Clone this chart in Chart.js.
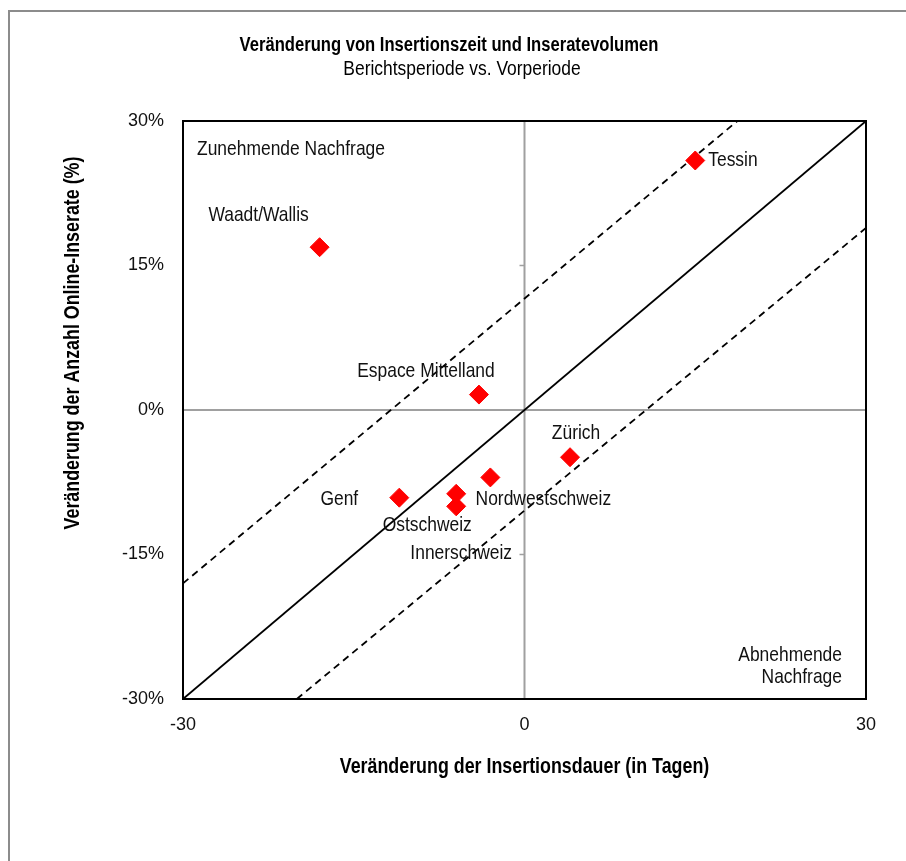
<!DOCTYPE html>
<html><head><meta charset="utf-8">
<script src="https://cdn.jsdelivr.net/npm/chart.js@4.4.1/dist/chart.umd.min.js"></script>
<style>html,body{margin:0;padding:0;background:#fff;width:906px;height:861px;overflow:hidden}
#wrap{position:absolute;left:0;top:0;width:906px;height:861px}</style>
</head><body>
<div id="wrap"><canvas id="c" width="906" height="861"></canvas></div>
<script>
const regions = ['Tessin','Waadt/Wallis','Espace Mittelland','Zürich','Nordwestschweiz','Genf','Ostschweiz','Innerschweiz'];
const dayChange = [15, -18, -4, 4, -3, -11, -6, -6];
const adChange = [25.9, 16.9, 1.6, -4.9, -7.0, -9.1, -8.7, -10.0];
const xTickValues = [-30, 0, 30];
const yTickValues = [-30, -15, 0, 15, 30];
const diagonalX = [-30, 30];
const diagonalY = [-30, 30];
const upperBandX = [-30, 18.7];
const upperBandY = [-18, 30];
const lowerBandX = [-20, 30];
const lowerBandY = [-30, 18.9];
const titleText = 'Veränderung von Insertionszeit und Inseratevolumen';
const subtitleText = 'Berichtsperiode vs. Vorperiode';
const xTitleText = 'Veränderung der Insertionsdauer (in Tagen)';
const yTitleText = 'Veränderung der Anzahl Online-Inserate (%)';
const cornerTopLeft = ['Zunehmende Nachfrage'];
const cornerBottomRight = ['Abnehmende', 'Nachfrage'];

// layout/style (not data)
const FONT = '"Liberation Sans", Arial, sans-serif';
const NARROW = 0.83; // horizontal compression to imitate a narrow face
const labelOffsets = [[13,0,'left'],[-61,-32,'center'],[-53,-23,'center'],[6,-24,'center'],[53,22,'center'],[-60,2,'center'],[-29,31,'center'],[5,47,'center']];

function narrowText(ctx, text, x, y, align, font, rot){
  ctx.save();
  ctx.translate(x, y);
  if (rot) ctx.rotate(rot);
  ctx.scale(NARROW, 1);
  ctx.font = font; ctx.textAlign = align; ctx.textBaseline = 'middle';
  ctx.fillText(text, 0, 0);
  ctx.restore();
}

const pts = dayChange.map((x,i)=>({x, y: adChange[i]}));
const line = (xs, ys) => xs.map((x,i)=>({x, y: ys[i]}));

const decor = {
  id:'decor',
  beforeDatasetsDraw(chart){
    const {ctx, chartArea:a, scales:{x, y}} = chart;
    ctx.save();
    ctx.strokeStyle='#8c8c8c'; ctx.lineWidth=2;
    ctx.beginPath(); ctx.moveTo(9, 900); ctx.lineTo(9, 11); ctx.lineTo(1000, 11); ctx.stroke();
    ctx.strokeStyle='#a0a0a0'; ctx.lineWidth=2;
    const x0=x.getPixelForValue(0), y0=y.getPixelForValue(0);
    ctx.beginPath(); ctx.moveTo(x0,a.top); ctx.lineTo(x0,a.bottom); ctx.moveTo(a.left,y0); ctx.lineTo(a.right,y0); ctx.stroke();
    ctx.lineWidth=1.5;
    ctx.beginPath();
    yTickValues.forEach(v=>{const p=y.getPixelForValue(v); ctx.moveTo(x0-5,p); ctx.lineTo(x0,p);});
    ctx.stroke();
    ctx.restore();
  },
  afterDatasetsDraw(chart){
    const {ctx, chartArea:a, scales:{x, y}} = chart;
    ctx.save();
    ctx.strokeStyle='#000'; ctx.lineWidth=2;
    ctx.strokeRect(a.left, a.top, a.right-a.left, a.bottom-a.top);
    ctx.fillStyle='#111';
    const f21 = '21px '+FONT;
    regions.forEach((r,i)=>{
      const px=x.getPixelForValue(dayChange[i]), py=y.getPixelForValue(adChange[i]);
      const [dx,dy,al]=labelOffsets[i];
      narrowText(ctx, r, px+dx, py+dy, al, f21);
    });
    cornerTopLeft.forEach((t,i)=>narrowText(ctx, t, a.left+14, a.top+28+i*22, 'left', f21));
    cornerBottomRight.forEach((t,i)=>narrowText(ctx, t, a.right-24, a.bottom-44+i*22, 'right', f21));
    ctx.fillStyle='#000';
    narrowText(ctx, titleText, 449, 45, 'center', 'bold 20px '+FONT);
    narrowText(ctx, subtitleText, 462, 69, 'center', '21px '+FONT);
    narrowText(ctx, xTitleText, (a.left+a.right)/2, 767, 'center', 'bold 21.5px '+FONT);
    narrowText(ctx, yTitleText, 73, 343, 'center', 'bold 21.5px '+FONT, -Math.PI/2);
    ctx.restore();
  }
};

new Chart(document.getElementById('c'), {
  type:'scatter',
  data:{datasets:[
    {data:pts, pointStyle:'rectRot', pointRadius:9.5, pointHoverRadius:9.5, backgroundColor:'#ff0000', borderColor:'#ff0000', borderWidth:1, order:0},
    {data:line(diagonalX,diagonalY), showLine:true, pointRadius:0, borderColor:'#000', borderWidth:1.8, order:1},
    {data:line(upperBandX,upperBandY), showLine:true, pointRadius:0, borderColor:'#000', borderWidth:1.8, borderDash:[7,5], order:1},
    {data:line(lowerBandX,lowerBandY), showLine:true, pointRadius:0, borderColor:'#000', borderWidth:1.8, borderDash:[7,5], order:1}
  ]},
  options:{
    responsive:false, animation:false, events:[],
    layout:{padding:{left:0, right:40, top:121, bottom:62}},
    plugins:{legend:{display:false}, tooltip:{enabled:false}},
    scales:{
      x:{type:'linear', min:-30, max:30,
        afterBuildTicks:s=>{s.ticks=xTickValues.map(v=>({value:v}));},
        afterFit:s=>{s.height=100;},
        grid:{display:false, drawTicks:false}, border:{display:false},
        ticks:{padding:15, color:'#111', font:{family:FONT, size:18}, maxRotation:0}
      },
      y:{type:'linear', min:-30, max:30,
        afterBuildTicks:s=>{s.ticks=yTickValues.map(v=>({value:v}));},
        afterFit:s=>{s.width=183;},
        grid:{display:false, drawTicks:false}, border:{display:false},
        ticks:{padding:19, color:'#111', font:{family:FONT, size:18}, callback:v=>v+'%'}
      }
    }
  },
  plugins:[decor]
});
</script>
</body></html>
